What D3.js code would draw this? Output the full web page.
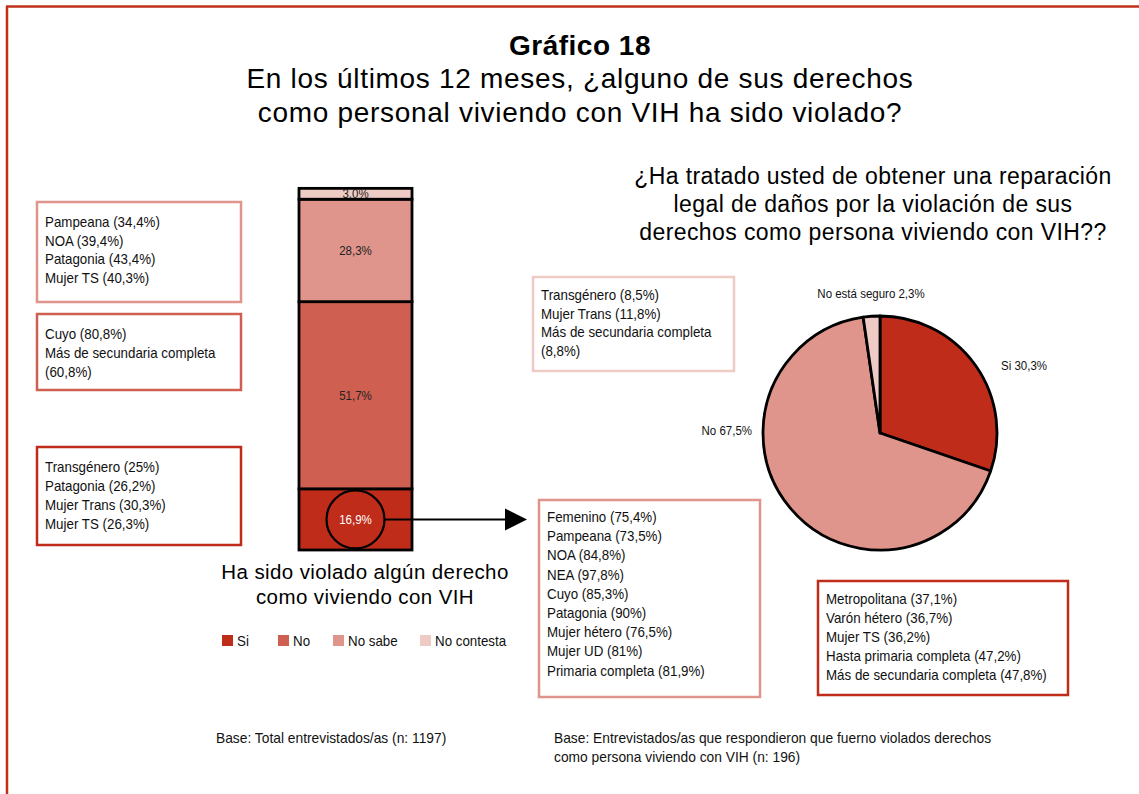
<!DOCTYPE html>
<html>
<head>
<meta charset="utf-8">
<script src="https://cdn.jsdelivr.net/npm/d3@7"></script>
<style>
  body { margin: 0; background: #fff; }
  svg { display: block; }
  .narrow { font-family: "Liberation Sans", Arial, Helvetica, sans-serif; fill: #111; }
  .wide { font-family: "Liberation Sans", Arial, Helvetica, sans-serif; fill: #000; }
</style>
</head>
<body>
<svg id="chart" width="1139" height="794"></svg>
<script>
// bar chart data (bottom to top)
const barCategories = ["Si", "No", "No sabe", "No contesta"];
const barValues = [16.9, 51.7, 28.3, 3.0];
const barLabels = ["16,9%", "51,7%", "28,3%", "3,0%"];
const colors = ["#bf2c1a", "#cf5f51", "#df958c", "#efcbc6"];

// pie data
const pieCategories = ["Si", "No", "No está seguro"];
const pieValues = [30.3, 67.5, 2.3];
const pieLabels = ["Si 30,3%", "No 67,5%", "No está seguro 2,3%"];
const pieColors = ["#bf2c1a", "#df958c", "#efcbc6"];

// text boxes
const boxNoSabe = ["Pampeana (34,4%)", "NOA (39,4%)", "Patagonia (43,4%)", "Mujer TS (40,3%)"];
const boxNo = ["Cuyo (80,8%)", "Más de secundaria completa", "(60,8%)"];
const boxSi = ["Transgénero (25%)", "Patagonia (26,2%)", "Mujer Trans (30,3%)", "Mujer TS (26,3%)"];
const boxSeguro = ["Transgénero (8,5%)", "Mujer Trans (11,8%)", "Más de secundaria completa", "(8,8%)"];
const boxPieNo = ["Femenino (75,4%)", "Pampeana (73,5%)", "NOA (84,8%)", "NEA (97,8%)", "Cuyo (85,3%)",
  "Patagonia (90%)", "Mujer hétero (76,5%)", "Mujer UD (81%)", "Primaria completa (81,9%)"];
const boxPieSi = ["Metropolitana (37,1%)", "Varón hétero (36,7%)", "Mujer TS (36,2%)",
  "Hasta primaria completa (47,2%)", "Más de secundaria completa (47,8%)"];

const svg = d3.select("#chart");

// condensed look: squeeze Liberation Sans horizontally
const SX = 0.92;
function ntext(parent, x, y, size, txt, anchor) {
  return parent.append("text").attr("class", "narrow")
    .attr("transform", `translate(${x},${y}) scale(${SX},1)`)
    .attr("font-size", size)
    .attr("text-anchor", anchor || "start")
    .text(txt);
}

// frame (left and top only, picture is cropped)
svg.append("line").attr("x1", 7).attr("y1", 794).attr("x2", 7).attr("y2", 6.5)
  .attr("stroke", "#c0301a").attr("stroke-width", 2.5);
svg.append("line").attr("x1", 6).attr("y1", 6.5).attr("x2", 1139).attr("y2", 6.5)
  .attr("stroke", "#c0301a").attr("stroke-width", 2.5);

// titles
svg.append("text").attr("class", "wide").attr("x", 580).attr("y", 55)
  .attr("text-anchor", "middle").attr("font-size", 28).attr("font-weight", "bold")
  .attr("letter-spacing", 0.5)
  .text("Gráfico 18");
["En los últimos 12 meses, ¿alguno de sus derechos", "como personal viviendo con VIH ha sido violado?"]
  .forEach((t, i) => {
    svg.append("text").attr("class", "wide").attr("x", 580).attr("y", 88 + i * 34)
      .attr("text-anchor", "middle").attr("font-size", 28).attr("letter-spacing", 0.7).text(t);
  });

["¿Ha tratado usted de obtener una reparación", "legal de daños por la violación de sus",
 "derechos como persona viviendo con VIH??"].forEach((t, i) => {
  svg.append("text").attr("class", "wide").attr("x", 873).attr("y", 184 + i * 28)
    .attr("text-anchor", "middle").attr("font-size", 23).attr("letter-spacing", 0.4).text(t);
});

// stacked bar
const y = d3.scaleLinear().domain([0, 100]).range([550, 188]);
const x = d3.scaleBand().domain(["total"]).range([299, 412]);

let cum = 0;
const stacked = barValues.map((v, i) => {
  const s = { y0: cum, y1: cum + v, i: i };
  cum += v;
  return s;
});

svg.selectAll(".seg")
  .data(stacked)
  .enter()
  .append("rect")
  .attr("class", "seg")
  .attr("x", x("total"))
  .attr("width", x.bandwidth())
  .attr("y", d => y(d.y1))
  .attr("height", d => y(d.y0) - y(d.y1))
  .attr("fill", d => colors[d.i])
  .attr("stroke", "#000")
  .attr("stroke-width", 2.8);

stacked.forEach(d => {
  ntext(svg, x("total") + x.bandwidth() / 2, (y(d.y0) + y(d.y1)) / 2 + 4.5, 12.5, barLabels[d.i], "middle")
    .style("fill", d.i === 0 ? "#fff" : "#222");
});

// circle + arrow on the "Si" segment
const siMid = (y(stacked[0].y0) + y(stacked[0].y1)) / 2;
const cx = x("total") + x.bandwidth() / 2;
svg.append("circle").attr("cx", cx).attr("cy", siMid).attr("r", 29)
  .attr("fill", "none").attr("stroke", "#000").attr("stroke-width", 2.2);
svg.append("line").attr("x1", cx + 29).attr("y1", siMid).attr("x2", 507).attr("y2", siMid)
  .attr("stroke", "#000").attr("stroke-width", 2);
svg.append("path")
  .attr("d", `M505,${siMid - 11} L527,${siMid} L505,${siMid + 11} Z`)
  .attr("fill", "#000");

// caption
["Ha sido violado algún derecho", "como viviendo con VIH"].forEach((t, i) => {
  svg.append("text").attr("class", "wide").attr("x", 365).attr("y", 579 + i * 25)
    .attr("text-anchor", "middle").attr("font-size", 20.5).attr("letter-spacing", 0.4).text(t);
});

// legend
const legendX = [222, 278, 333, 420];
barCategories.forEach((c, i) => {
  svg.append("rect").attr("x", legendX[i]).attr("y", 635).attr("width", 11).attr("height", 11)
    .attr("fill", colors[i]);
  ntext(svg, legendX[i] + 15, 646, 14.5, c);
});

// boxes
function box(x0, y0, w, h, stroke, lines, firstY, step) {
  svg.append("rect").attr("x", x0).attr("y", y0).attr("width", w).attr("height", h)
    .attr("fill", "#fff").attr("stroke", stroke).attr("stroke-width", 2.5);
  lines.forEach((t, i) => {
    ntext(svg, x0 + 8, firstY + i * step + 5, 14.5, t);
  });
}
box(37, 202, 204, 100, colors[2], boxNoSabe, 222, 18.7);
box(37, 314, 204, 76, colors[1], boxNo, 334, 19);
box(37, 447, 204, 98, colors[0], boxSi, 467, 19);
box(533, 277, 201, 94, pieColors[2], boxSeguro, 295, 18.5);
box(539, 500, 221, 197, pieColors[1], boxPieNo, 517, 19.2);
box(818, 581, 250, 114, pieColors[0], boxPieSi, 599, 19);

// pie
const pcx = 880, pcy = 433, pr = 117;
const pie = d3.pie().sort(null).value(d => d);
const arc = d3.arc().innerRadius(0).outerRadius(pr);
const pg = svg.append("g").attr("transform", `translate(${pcx},${pcy})`);
pg.selectAll("path")
  .data(pie(pieValues))
  .enter()
  .append("path")
  .attr("d", arc)
  .attr("fill", (d, i) => pieColors[i])
  .attr("stroke", "#000")
  .attr("stroke-width", 2.8)
  .attr("stroke-linejoin", "round");

// pie labels
const pieLabelPos = [
  { x: 1001, y: 370, anchor: "start" },
  { x: 752, y: 435, anchor: "end" },
  { x: 871, y: 298, anchor: "middle" }
];
pieLabels.forEach((t, i) => {
  ntext(svg, pieLabelPos[i].x, pieLabelPos[i].y, 12.5, t, pieLabelPos[i].anchor);
});

// base notes
ntext(svg, 216, 743, 15, "Base: Total entrevistados/as (n: 1197)");
["Base: Entrevistados/as que respondieron que fuerno violados derechos",
 "como persona viviendo con VIH (n: 196)"].forEach((t, i) => {
  ntext(svg, 554, 743 + i * 19, 15, t);
});
</script>
</body>
</html>
